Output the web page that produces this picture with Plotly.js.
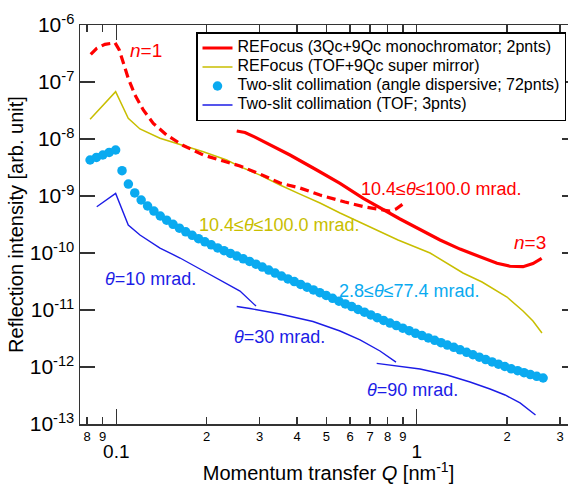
<!DOCTYPE html>
<html>
<head>
<meta charset="utf-8">
<script src="https://cdn.plot.ly/plotly-3.0.1.min.js"></script>
<style>
html,body{margin:0;padding:0;overflow:hidden;background:#fff;}
#chart{width:590px;height:484px;}
</style>
</head>
<body>
<div id="chart"></div>
<script>
// REFocus (3Qc+9Qc monochromator), n=1 (dashed)
const redDashQ = [0.0822,0.0861,0.0917,0.0990,0.1023,0.1055,0.1096,0.1154,0.1230,0.1328,0.1472,0.1671,0.1948,0.2271,0.2581,0.3009,0.3507,0.4088,0.4766,0.577,0.673,0.7548,0.8149,0.8533,0.9004];
const redDashI = [3.06e-7,3.90e-7,4.58e-7,4.89e-7,3.64e-7,2.27e-7,1.16e-7,5.92e-8,3.23e-8,1.88e-8,1.17e-8,7.69e-9,5.24e-9,4.11e-9,3.36e-9,2.43e-9,1.69e-9,1.38e-9,1.04e-9,7.85e-10,6.41e-10,5.79e-10,5.46e-10,5.92e-10,7.24e-10];
// REFocus n=3 (solid)
const redSolidQ = [0.2517,0.2682,0.2895,0.3249,0.3786,0.4647,0.5556,0.6641,0.7742,0.8799,1.026,1.196,1.394,1.624,1.851,2.045,2.259,2.438,2.606];
const redSolidI = [1.38e-8,1.30e-8,1.08e-8,7.85e-9,5.24e-9,2.86e-9,1.67e-9,9.12e-10,5.68e-10,3.95e-10,2.58e-10,1.69e-10,1.17e-10,8.51e-11,6.59e-11,5.85e-11,5.75e-11,6.54e-11,8.07e-11];
// REFocus (TOF+9Qc super mirror)
const yellowQ = [0.0818,0.0995,0.1096,0.1199,0.1398,0.1630,0.1948,0.2331,0.2581,0.3009,0.3507,0.4088,0.4766,0.5556,0.6991,0.8668,1.108,1.426,1.650,1.851,1.998,2.259,2.438,2.612];
const yellowI = [2.22e-8,6.76e-8,2.31e-8,1.50e-8,1.03e-8,8.07e-9,5.98e-9,4.28e-9,3.27e-9,2.33e-9,1.56e-9,1.08e-9,7.54e-10,5.03e-10,2.86e-10,1.69e-10,1.0e-10,4.46e-11,3.10e-11,2.15e-11,1.69e-11,9.60e-12,6.41e-12,3.95e-12];
// Two-slit collimation (angle dispersive; 72 points)
const slitQ = [0.0818,0.0859,0.0902,0.0947,0.0995,0.1045,0.1097,0.1152,0.1210,0.1271,0.1334,0.1401,0.1471,0.1545,0.1622,0.1703,0.1789,0.1878,0.1972,0.2071,0.2175,0.2284,0.2399,0.2519,0.2646,0.2778,0.2917,0.3063,0.3217,0.3378,0.3548,0.3726,0.3913,0.4109,0.4315,0.4531,0.4758,0.4996,0.5247,0.5510,0.5786,0.6076,0.6380,0.6700,0.7036,0.7388,0.7758,0.8148,0.8556,0.8987,0.9437,0.9909,1.041,1.093,1.148,1.205,1.265,1.329,1.395,1.466,1.539,1.616,1.697,1.782,1.871,1.965,2.063,2.167,2.276,2.390,2.510,2.635];
const slitI = [4.28e-9,4.74e-9,5.24e-9,5.80e-9,6.41e-9,2.78e-9,1.62e-9,1.13e-9,8.51e-10,6.68e-10,5.45e-10,4.46e-10,3.76e-10,3.19e-10,2.73e-10,2.35e-10,2.04e-10,1.78e-10,1.57e-10,1.39e-10,1.23e-10,1.10e-10,9.84e-11,8.82e-11,7.91e-11,7.10e-11,6.36e-11,5.66e-11,5.01e-11,4.44e-11,3.93e-11,3.51e-11,3.15e-11,2.81e-11,2.51e-11,2.25e-11,2.01e-11,1.80e-11,1.60e-11,1.43e-11,1.28e-11,1.15e-11,1.02e-11,9.15e-12,8.20e-12,7.33e-12,6.57e-12,5.91e-12,5.32e-12,4.79e-12,4.33e-12,3.90e-12,3.56e-12,3.23e-12,2.94e-12,2.67e-12,2.43e-12,2.21e-12,2.00e-12,1.81e-12,1.64e-12,1.49e-12,1.35e-12,1.23e-12,1.12e-12,1.02e-12,9.30e-13,8.61e-13,7.94e-13,7.36e-13,6.87e-13,6.41e-13];
// Two-slit collimation (TOF; 3 points: theta = 10, 30, 90 mrad), segments separated by null
const tofQ = [0.0861,0.0995,0.1096,0.1199,0.1398,0.1630,0.1899,0.2214,0.2581,0.2918,null,0.2517,0.2787,0.3507,0.4516,0.5556,0.6477,0.7548,0.8533,null,0.7359,0.8799,1.026,1.262,1.505,1.754,1.968,2.208,2.486];
const tofI = [6.49e-10,1.11e-9,3.10e-10,2.07e-10,1.22e-10,8.17e-11,5.24e-11,3.36e-11,2.15e-11,1.17e-11,null,1.15e-11,1.06e-11,8.51e-12,6.28e-12,4.28e-12,2.98e-12,1.91e-12,1.22e-12,null,1.16e-12,1.02e-12,9.23e-13,7.24e-13,5.46e-13,4.11e-13,3.23e-13,2.34e-13,1.44e-13];

const seriesNames = [
  'REFocus (3Qc+9Qc monochromator; 2pnts)',
  'REFocus (TOF+9Qc super mirror)',
  'Two-slit collimation (angle dispersive; 72pnts)',
  'Two-slit collimation (TOF; 3pnts)'
];
const xMinorTicks = [0.08,0.09,0.2,0.3,0.4,0.5,0.6,0.7,0.8,0.9,2,3];
const xMinorText = ['8','9','2','3','4','5','6','7','8','9','2','3'];
const xMajorTicks = [0.1,1];
const xMajorText = ['0.1','1'];
const yTicks = [1e-13,1e-12,1e-11,1e-10,1e-9,1e-8,1e-7,1e-6];
const yText = ['10<sup>-13</sup>','10<sup>-12</sup>','10<sup>-11</sup>','10<sup>-10</sup>','10<sup>-9</sup>','10<sup>-8</sup>','10<sup>-7</sup>','10<sup>-6</sup>'];

const RED = '#ff0000', YEL = '#c8be00', LBLUE = '#0aaaf0', DBLUE = '#1c1ce6';
const FONT = 'Liberation Sans, Arial, sans-serif';
const lg = s => '<span style="font-size:16px">' + s + '</span>';

const traces = [
  {x: redSolidQ, y: redSolidI, type:'scatter', mode:'lines', name: lg(seriesNames[0]),
   line:{color:RED, width:3.2}},
  {x: yellowQ, y: yellowI, type:'scatter', mode:'lines', name: lg(seriesNames[1]),
   line:{color:YEL, width:1.5}},
  {x: slitQ, y: slitI, type:'scatter', mode:'markers', name: lg(seriesNames[2]),
   marker:{color:LBLUE, size:9.5, line:{width:0}}},
  {x: tofQ, y: tofI, type:'scatter', mode:'lines', name: lg(seriesNames[3]),
   line:{color:DBLUE, width:1.4}, connectgaps:false},
  // n=1 branch of the REFocus curve, drawn on the overlaid axis that carries the 0.1 / 1 labels (same range)
  {x: redDashQ, y: redDashI, xaxis:'x2', yaxis:'y', type:'scatter', mode:'lines', showlegend:false,
   line:{color:RED, width:3.2, dash:'9px,5px'}}
];

const xr = [-1.1208, 0.5336];
const axCol = '#333';
const px = v => (v-80)/497, py = v => (424-v)/399;
function ann(text, x, y, color, size){
  return {text, xref:'paper', yref:'paper', x:px(x), y:py(y), xanchor:'center', yanchor:'middle',
          showarrow:false, font:{family:FONT, size:size||18, color}};
}

const layout = {
  width:590, height:484,
  margin:{l:80, r:13, t:25, b:60},
  paper_bgcolor:'#fff', plot_bgcolor:'#fff',
  font:{family:FONT, color:'#000'},
  showlegend:true,
  legend:{x:px(196), y:py(32), xanchor:'left', yanchor:'top', bgcolor:'#fff',
          bordercolor:'#000', borderwidth:1.5, font:{family:FONT, size:11, color:'#000'},
          tracegroupgap:0},
  xaxis:{type:'log', range:xr, tickmode:'array', tickvals:xMinorTicks, ticktext:xMinorText,
         ticks:'inside', ticklen:7, tickwidth:1.5, tickcolor:axCol,
         showline:true, linecolor:axCol, linewidth:1.5, mirror:'ticks',
         showgrid:false, zeroline:false, tickfont:{family:FONT, size:13, color:'#000'},
         title:{text:'Momentum transfer <i>Q</i> [nm<sup>-1</sup>]', font:{family:FONT, size:20, color:'#000'}, standoff:27}},
  xaxis2:{type:'log', range:xr, overlaying:'x', anchor:'y', side:'bottom',
          tickmode:'array', tickvals:xMajorTicks, ticktext:xMajorText,
          ticks:'inside', ticklen:15, tickwidth:1.5, tickcolor:axCol,
          showline:false, mirror:'ticks', showgrid:false, zeroline:false,
          tickfont:{family:FONT, size:19, color:'#000'}, ticklabelstandoff:14},
  yaxis:{type:'log', range:[-13,-6], tickmode:'array', tickvals:yTicks, ticktext:yText,
         ticks:'inside', ticklen:15, tickwidth:1.5, tickcolor:axCol,
         showline:true, linecolor:axCol, linewidth:1.5, mirror:'ticks',
         showgrid:false, zeroline:false, tickfont:{family:FONT, size:21, color:'#000'},
         title:{text:'Reflection intensity [arb. unit]', font:{family:FONT, size:20, color:'#000'}, standoff:0}},
  annotations:[
    ann('<i>n</i>=1', 145.5, 50, RED, 19),
    ann('10.4≤<i>θ</i>≤100.0 mrad.', 441, 189.5, RED, 18),
    ann('<i>n</i>=3', 529.5, 242, RED, 19),
    ann('10.4≤<i>θ</i>≤100.0 mrad.', 279, 225, YEL, 18),
    ann('2.8≤<i>θ</i>≤77.4 mrad.', 409.5, 290.5, LBLUE, 18),
    ann('<i>θ</i>=10 mrad.', 150, 278.5, DBLUE, 18),
    ann('<i>θ</i>=30 mrad.', 279, 336.5, DBLUE, 18),
    ann('<i>θ</i>=90 mrad.', 412, 390, DBLUE, 18)
  ]
};

Plotly.newPlot('chart', traces, layout, {displayModeBar:false, staticPlot:true});
</script>
</body>
</html>
